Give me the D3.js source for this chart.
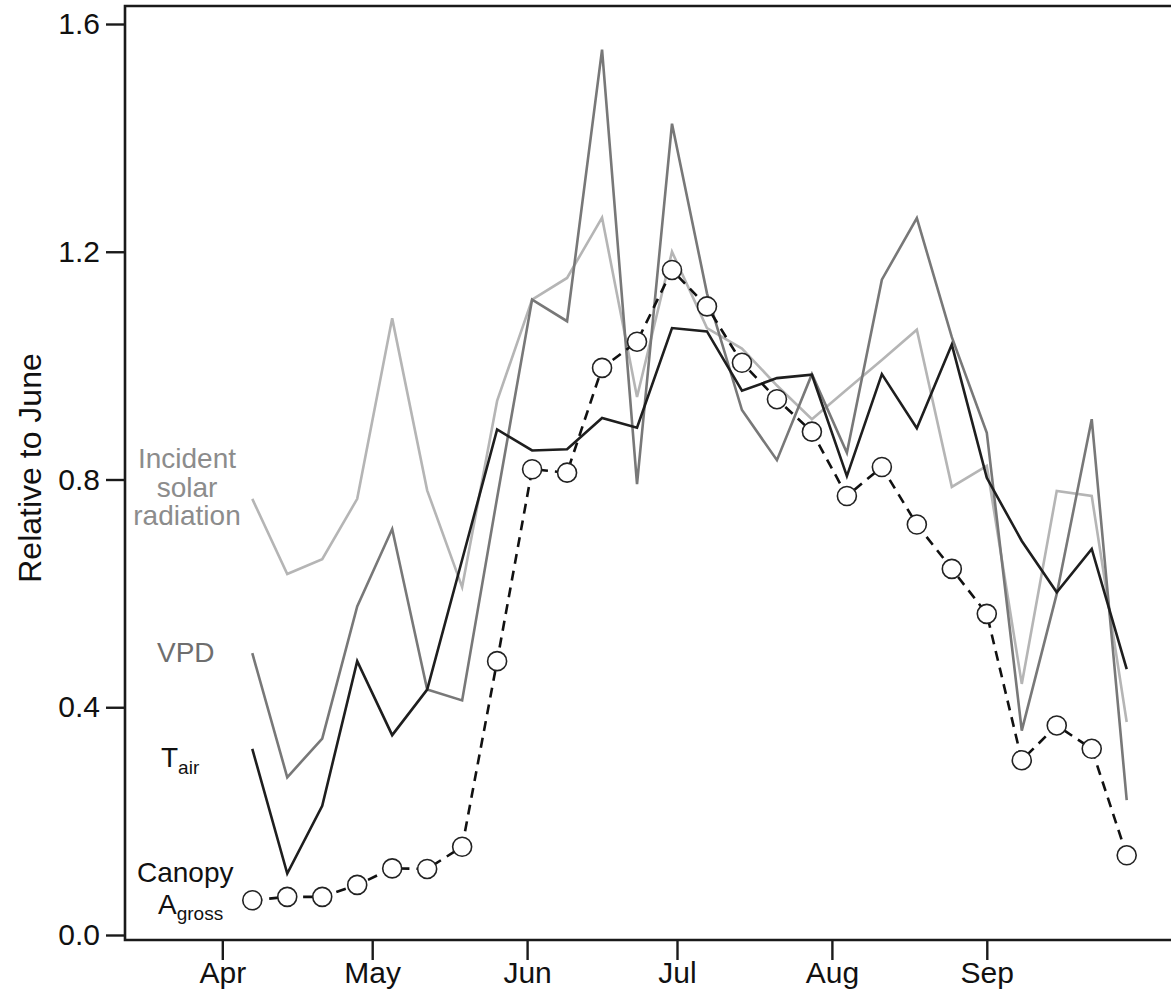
<!DOCTYPE html>
<html>
<head>
<meta charset="utf-8">
<script src="https://cdn.jsdelivr.net/npm/d3@7"></script>
<style>
  html, body { margin: 0; padding: 0; background: #fff; }
  svg { display: block; font-family: "Liberation Sans", Arial, sans-serif; }
</style>
</head>
<body>
<svg id="chart" width="1171" height="993"></svg>
<script>
// weekly values, relative to June

const weeks = [
  '2013-04-07', '2013-04-14', '2013-04-21', '2013-04-28', '2013-05-05', '2013-05-12',
  '2013-05-19', '2013-05-26', '2013-06-02', '2013-06-09', '2013-06-16', '2013-06-23',
  '2013-06-30', '2013-07-07', '2013-07-14', '2013-07-21', '2013-07-28', '2013-08-04',
  '2013-08-11', '2013-08-18', '2013-08-25', '2013-09-01', '2013-09-08', '2013-09-15',
  '2013-09-22', '2013-09-29'
];

const solar = [0.766, 0.634, 0.660, 0.766, 1.083, 0.781, 0.611, 0.938, 1.116, 1.154, 1.260, 0.945, 1.200,
               1.066, 1.030, 0.965, 0.906, 0.958, 1.010, 1.063, 0.787, 0.824, 0.441, 0.780, 0.771, 0.374];

const vpd = [0.495, 0.277, 0.345, 0.577, 0.713, 0.431, 0.412, 0.768, 1.116, 1.078, 1.555, 0.792, 1.425,
             1.127, 0.922, 0.834, 0.985, 0.847, 1.151, 1.259, 1.050, 0.882, 0.359, 0.599, 0.906, 0.237];

const tair = [0.327, 0.108, 0.227, 0.481, 0.351, 0.431, 0.659, 0.888, 0.851, 0.853, 0.908, 0.891, 1.066,
              1.060, 0.956, 0.978, 0.984, 0.806, 0.985, 0.890, 1.037, 0.803, 0.692, 0.602, 0.678, 0.467];

const agross = [0.061, 0.067, 0.067, 0.088, 0.117, 0.116, 0.155, 0.481, 0.818, 0.812, 0.996, 1.042, 1.168,
                1.104, 1.005, 0.941, 0.884, 0.771, 0.822, 0.721, 0.643, 0.564, 0.307, 0.368, 0.327, 0.140];

const monthTicks = ['2013-04-01', '2013-05-01', '2013-06-01', '2013-07-01', '2013-08-01', '2013-09-01'];
const yTicks = [0.0, 0.4, 0.8, 1.2, 1.6];

const parse = d3.utcParse('%Y-%m-%d');
const dates = weeks.map(parse);

const svg = d3.select('#chart');
const frameLeft = 125, frameTop = 6, frameBottom = 940;

// x: Apr 1 -> 222, Jul 1 -> 677 (about 5 px a day)
const x = d3.scaleUtc()
  .domain([parse('2013-04-01'), parse('2013-07-01')])
  .range([222.3, 677]);

const y = d3.scaleLinear()
  .domain([0, 1.6])
  .range([935, 24]);

// frame (right side runs off the picture)
svg.append('path')
  .attr('d', `M1180,${frameTop}H${frameLeft}V${frameBottom}H1180`)
  .attr('fill', 'none')
  .attr('stroke', '#1a1a1a')
  .attr('stroke-width', 2.6);

// y axis
const yAxis = svg.append('g')
  .attr('transform', `translate(${frameLeft},0)`)
  .call(d3.axisLeft(y).tickValues(yTicks).tickFormat(d3.format('.1f')).tickSize(19).tickPadding(6));
yAxis.select('.domain').remove();
yAxis.selectAll('line').attr('stroke', '#1a1a1a').attr('stroke-width', 2.4);
yAxis.selectAll('text').attr('font-size', 30).attr('fill', '#111').attr('font-family', '"Liberation Sans", Arial, sans-serif');

// x axis
const xAxis = svg.append('g')
  .attr('transform', `translate(0,${frameBottom})`)
  .call(d3.axisBottom(x).tickValues(monthTicks.map(parse)).tickFormat(d3.utcFormat('%b')).tickSize(20).tickPadding(2));
xAxis.select('.domain').remove();
xAxis.selectAll('line').attr('stroke', '#1a1a1a').attr('stroke-width', 2.4);
xAxis.selectAll('text').attr('font-size', 30).attr('fill', '#111').attr('font-family', '"Liberation Sans", Arial, sans-serif');

// y title
svg.append('text')
  .attr('transform', 'translate(41,468) rotate(-90)')
  .attr('text-anchor', 'middle')
  .attr('font-size', 32)
  .attr('fill', '#111')
  .text('Relative to June');

const line = vals => d3.line()
  .x((d, i) => x(dates[i]))
  .y(d => y(d))(vals);

const series = [
  { vals: solar, color: '#b5b5b5' },
  { vals: vpd, color: '#787878' },
  { vals: tair, color: '#1e1e1e' }
];

series.forEach(s => {
  svg.append('path')
    .attr('d', line(s.vals))
    .attr('fill', 'none')
    .attr('stroke', s.color)
    .attr('stroke-width', 2.6)
    .attr('stroke-linejoin', 'miter');
});

// canopy A gross: dashed with open circles
svg.append('path')
  .attr('d', line(agross))
  .attr('fill', 'none')
  .attr('stroke', '#111')
  .attr('stroke-width', 2.6)
  .attr('stroke-dasharray', '10,7');

svg.append('g')
  .selectAll('circle')
  .data(agross)
  .join('circle')
    .attr('cx', (d, i) => x(dates[i]))
    .attr('cy', d => y(d))
    .attr('r', 9.5)
    .attr('fill', '#fff')
    .attr('stroke', '#222')
    .attr('stroke-width', 1.6);

// series labels
const lab = svg.append('g').attr('font-size', 28);

lab.append('text')
  .attr('text-anchor', 'middle')
  .attr('fill', '#8c8c8c')
  .selectAll('tspan')
  .data(['Incident', 'solar', 'radiation'])
  .join('tspan')
    .attr('x', 187)
    .attr('y', (d, i) => 468 + i * 28.5)
    .text(d => d);

lab.append('text')
  .attr('x', 157).attr('y', 662)
  .attr('fill', '#6e6e6e')
  .text('VPD');

const t = lab.append('text').attr('x', 161).attr('y', 767).attr('fill', '#111');
t.append('tspan').text('T');
t.append('tspan').attr('font-size', 19).attr('dy', 7).text('air');

lab.append('text')
  .attr('x', 137).attr('y', 882)
  .attr('fill', '#111')
  .text('Canopy');

const a = lab.append('text').attr('x', 158).attr('y', 914).attr('fill', '#111');
a.append('tspan').text('A');
a.append('tspan').attr('font-size', 19).attr('dy', 6).text('gross');
</script>
</body>
</html>
